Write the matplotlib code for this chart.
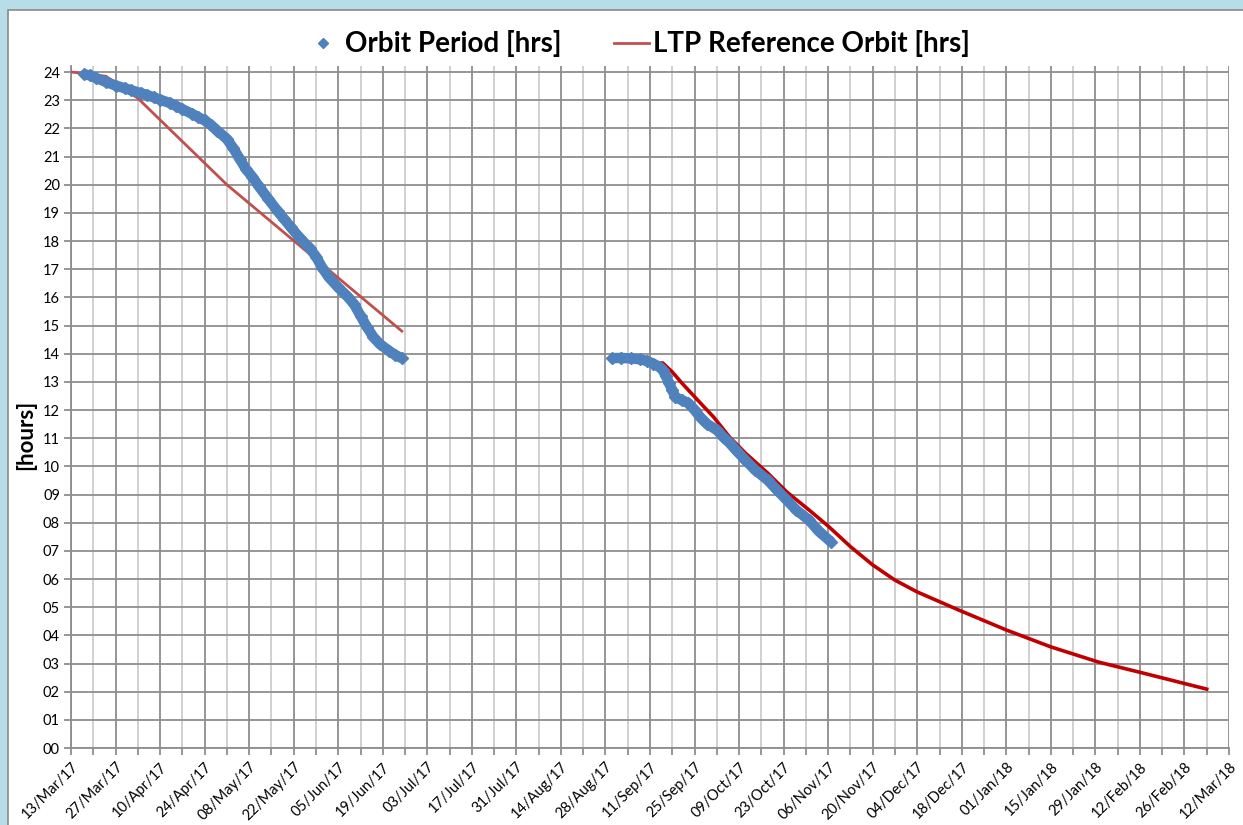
import pandas as pd
import matplotlib.pyplot as plt
import matplotlib.dates as mdates
from matplotlib.patches import Rectangle
from matplotlib.lines import Line2D

# measured orbit period, first and second campaign
obs1_dates = ['2017-03-17', '2017-03-19', '2017-03-21', '2017-03-24', '2017-03-27', '2017-03-30',
              '2017-04-01', '2017-04-04', '2017-04-06', '2017-04-08', '2017-04-10', '2017-04-13',
              '2017-04-15', '2017-04-17', '2017-04-20', '2017-04-22', '2017-04-24', '2017-04-26',
              '2017-04-28', '2017-05-01', '2017-05-03', '2017-05-05', '2017-05-07', '2017-05-09',
              '2017-05-11', '2017-05-14', '2017-05-17', '2017-05-19', '2017-05-21', '2017-05-24',
              '2017-05-27', '2017-05-29', '2017-05-31', '2017-06-02', '2017-06-05', '2017-06-08',
              '2017-06-10', '2017-06-12', '2017-06-14', '2017-06-16', '2017-06-18', '2017-06-21',
              '2017-06-23', '2017-06-25']
obs1_hrs = [23.92, 23.88, 23.78, 23.65, 23.52, 23.42,
            23.35, 23.25, 23.18, 23.10, 23.02, 22.90,
            22.80, 22.68, 22.52, 22.40, 22.28, 22.12,
            21.92, 21.62, 21.30, 20.92, 20.55, 20.28,
            19.95, 19.50, 19.05, 18.78, 18.50, 18.10,
            17.75, 17.45, 17.05, 16.72, 16.35, 16.02,
            15.75, 15.35, 14.95, 14.60, 14.35, 14.10,
            13.95, 13.84]

obs2_dates = ['2017-08-30', '2017-09-02', '2017-09-05', '2017-09-08', '2017-09-10', '2017-09-12',
              '2017-09-14', '2017-09-15', '2017-09-16', '2017-09-17', '2017-09-18', '2017-09-19',
              '2017-09-21', '2017-09-23', '2017-09-25', '2017-09-27', '2017-09-29', '2017-10-02',
              '2017-10-04', '2017-10-06', '2017-10-08', '2017-10-11', '2017-10-14', '2017-10-18',
              '2017-10-21', '2017-10-24', '2017-10-27', '2017-10-31', '2017-11-03', '2017-11-07']
obs2_hrs = [13.84, 13.85, 13.83, 13.80, 13.74, 13.65,
            13.52, 13.42, 13.20, 12.96, 12.70, 12.46,
            12.35, 12.25, 12.00, 11.72, 11.50, 11.29,
            11.05, 10.83, 10.58, 10.22, 9.88, 9.51,
            9.15, 8.80, 8.45, 8.09, 7.70, 7.31]

# LTP reference orbit
ref1_dates = ['2017-03-13', '2017-03-17', '2017-03-24', '2017-04-03', '2017-05-01', '2017-06-25']
ref1_hrs = [24.0, 23.95, 23.85, 23.07, 20.0, 14.8]

ref2_dates = ['2017-09-11', '2017-09-15', '2017-09-18', '2017-09-21', '2017-09-26', '2017-10-01',
              '2017-10-06', '2017-10-11', '2017-10-18', '2017-10-24', '2017-10-31', '2017-11-06',
              '2017-11-13', '2017-11-20', '2017-11-27', '2017-12-04', '2017-12-17', '2018-01-01',
              '2018-01-15', '2018-01-30', '2018-02-13', '2018-03-05']
ref2_hrs = [13.70, 13.67, 13.35, 12.96, 12.35, 11.75,
            11.04, 10.47, 9.76, 9.09, 8.45, 7.88,
            7.15, 6.50, 5.96, 5.54, 4.90, 4.19,
            3.59, 3.05, 2.66, 2.09]

blue = '#4f81bd'
red1 = '#c0504d'
red2 = '#c00000'
grid_dark = '#8e8e8e'
grid_light = '#cdcdcd'

plt.rcParams['font.family'] = ['Lato', 'DejaVu Sans']

fig = plt.figure(figsize=(12.43, 8.25), dpi=100)
fig.patch.set_facecolor('#b7dde8')
fig.patches.append(Rectangle((8 / 1243, -0.01), 1, 1.01 - 10 / 825, transform=fig.transFigure,
                             facecolor='white', edgecolor='#8a8a8a', linewidth=1.2, zorder=-5))

ax = fig.add_axes([71 / 1243, 1 - 748 / 825, (1229 - 71) / 1243, (748 - 66.4) / 825])
ax.set_facecolor('none')

start = pd.Timestamp('2017-03-13')
end = pd.Timestamp('2018-03-12')
ax.set_xlim(start, end)
ax.set_ylim(0, 24.2)

major = pd.date_range(start, end, freq='14D')
minor = pd.date_range(start, end, freq='7D')
ax.set_xticks(major)
ax.set_xticks(minor, minor=True)
ax.xaxis.set_major_formatter(mdates.DateFormatter('%d/%b/%y'))
ax.set_yticks(range(0, 25))
ax.set_yticklabels(['%02d' % v for v in range(0, 25)])

ax.grid(True, which='major', color=grid_dark, linewidth=1.3)
ax.grid(True, which='minor', axis='x', color=grid_light, linewidth=1.3)
ax.set_axisbelow(True)

for s in ['top', 'right']:
    ax.spines[s].set_visible(False)
for s in ['left', 'bottom']:
    ax.spines[s].set_color(grid_dark)
    ax.spines[s].set_linewidth(1.3)

ax.tick_params(axis='both', which='both', color=grid_dark, width=1.3, length=5,
               labelsize=10.5, colors=grid_dark, labelcolor='black')
ax.tick_params(axis='y', pad=3)
for lab in ax.get_xticklabels():
    lab.set_rotation(45)
    lab.set_ha('right')
    lab.set_rotation_mode('anchor')

# reference orbit
ax.plot(pd.to_datetime(ref1_dates), ref1_hrs, color=red1, linewidth=2, zorder=3)
ax.plot(pd.to_datetime(ref2_dates), ref2_hrs, color=red2, linewidth=2.6, zorder=3)

# measured period (dense diamond markers)
for dts, hrs in [(obs1_dates, obs1_hrs), (obs2_dates, obs2_hrs)]:
    x = pd.to_datetime(dts)
    ax.plot(x, hrs, color=blue, linewidth=7.5, solid_capstyle='butt', zorder=4)
    ax.plot(x, hrs, linestyle='none', marker='D', markersize=6.5, color=blue, zorder=5)

ax.set_ylabel('[hours]', fontsize=16, fontweight='bold')
ax.yaxis.set_label_coords(-0.03, 0.459)

handles = [Line2D([], [], linestyle='none', marker='D', markersize=5, color=blue),
           Line2D([], [], color=red1, linewidth=2)]
fig.legend(handles, ['Orbit Period [hrs]', 'LTP Reference Orbit [hrs]'],
           loc='center', bbox_to_anchor=(0.513, 0.947), ncol=2, frameon=False,
           prop={'size': 20, 'weight': 'bold'}, handlelength=1.25, handletextpad=0.15,
           columnspacing=1.9)

fig.savefig('out.png', dpi=100, facecolor=fig.get_facecolor())
